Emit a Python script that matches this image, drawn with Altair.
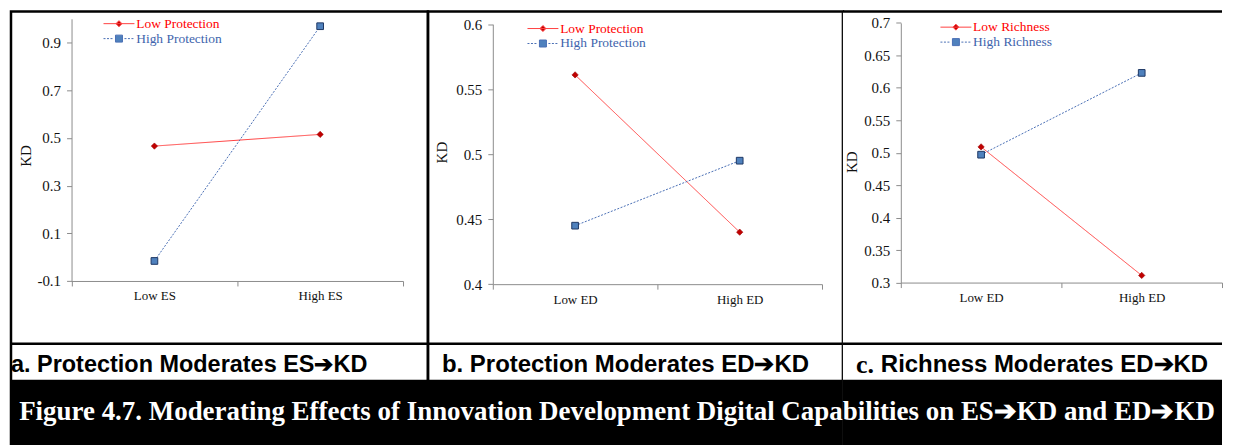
import altair as alt
import pandas as pd

# ---------------- data ----------------
cats_es = ["Low ES", "High ES"]
cats_ed = ["Low ED", "High ED"]
prot_series = ["Low Protection", "High Protection"]
rich_series = ["Low Richness", "High Richness"]

a_low = [0.466, 0.515]
a_high = [-0.016, 0.969]
b_low = [0.561, 0.440]
b_high = [0.445, 0.495]
c_low = [0.509, 0.311]
c_high = [0.497, 0.623]

a_ticks = [-0.1, 0.1, 0.3, 0.5, 0.7, 0.9]
b_ticks = [0.4, 0.45, 0.5, 0.55, 0.6]
c_ticks = [0.3, 0.35, 0.4, 0.45, 0.5, 0.55, 0.6, 0.65, 0.7]

ARROW = "\u2794"
caption_a = f"a. Protection Moderates ES{ARROW}KD"
caption_b = f"b. Protection Moderates ED{ARROW}KD"
caption_c1 = "c."
caption_c2 = f"Richness Moderates ED{ARROW}KD"
figure_title = ("Figure 4.7. Moderating Effects of Innovation Development Digital "
                f"Capabilities on ES{ARROW}KD and ED{ARROW}KD")

# ---------------- style ----------------
RED_LINE = "#FF4040"
RED_MARK = "#C00000"
BLUE_LINE = "#4A6FB5"
BLUE_MARK = "#4F81BD"
BLUE_EDGE = "#1F3864"
AXIS_GRAY = "#8C8C8C"
SERIF = "Liberation Serif"
SANS = "Liberation Sans"

W_A, W_B, W_C = 418, 416, 380
H_TOP = 333          # chart area of each panel
H_CAP = 36           # caption strip
H_BAN = 70           # black figure-title banner (runs off the bottom like the original)
H_ALL = H_TOP + H_CAP + H_BAN
BORDER = 2.5

# legend symbol: line sample with marker in the middle (unit = sqrt(size)/2 px)
path_low = "M-5.2,0L1,0M-2.1,-0.6L-1.5,0L-2.1,0.6L-2.7,0Z"
segs = []
x = -5.2
while x < 1.0:
    x1 = min(x + 0.4, 1.0)
    if x1 <= -2.8 or x >= -1.4:
        segs.append(f"M{x:.2f},0L{x1:.2f},0")
    x += 0.7
path_high = "".join(segs) + "M-2.8,-0.7L-1.4,-0.7L-1.4,0.7L-2.8,0.7Z"


def rule_h(width, ypos, name):
    return alt.Chart(pd.DataFrame({"edge": [name]})).mark_rule(
        color="black", strokeWidth=BORDER).encode(
        x=alt.value(0), x2=alt.value(width), y=alt.value(ypos))


def text_at(txt, xpos, ypos, font, size, color="black", align="left"):
    return alt.Chart(pd.DataFrame({"t": [txt]})).mark_text(
        font=font, fontSize=size, fontWeight="bold", align=align, baseline="middle",
        color=color).encode(text="t:N", x=alt.value(xpos), y=alt.value(ypos))


def banner_rect(width):
    return alt.Chart(pd.DataFrame({"part": ["banner"]})).mark_rect(color="black").encode(
        x=alt.value(0), x2=alt.value(width), y=alt.value(H_TOP + H_CAP), y2=alt.value(H_ALL))


def panel(cats, series, low, high, ydomain, yticks, yfmt_expr, g, width, extras, view=None):
    df = pd.DataFrame({
        "cat": cats * 2,
        "series": [series[0]] * 2 + [series[1]] * 2,
        "kd": low + high,
    })
    x = alt.X(
        "cat:N",
        bandPosition=0.5,
        scale=alt.Scale(type="band", domain=cats, range=[g["x0"], g["x1"]],
                        paddingInner=0, paddingOuter=0),
        axis=alt.Axis(title=None, offset=g["xaxis_y"] - H_ALL, tickBand="extent",
                      labelFontSize=13, labelPadding=4, tickSize=5,
                      labelAngle=0),
    )
    y = alt.Y(
        "kd:Q",
        scale=alt.Scale(domain=ydomain, range=[g["xaxis_y"], g["ytop"]],
                        nice=False, zero=False),
        axis=alt.Axis(values=yticks, offset=-g["x0"], labelExpr=yfmt_expr,
                      labelFontSize=15, labelPadding=6, tickSize=5,
                      labelOverlap=False,
                      title="KD", titleX=g["tx"], titleY=g["ty"],
                      titleAngle=270, titleAlign="center",
                      titleBaseline="middle", titleFontSize=15),
    )
    lines = alt.Chart(df).mark_line(strokeWidth=1).encode(
        x=x, y=y,
        color=alt.Color("series:N", scale=alt.Scale(domain=series, range=[RED_LINE, BLUE_LINE]),
                        legend=None),
        strokeDash=alt.StrokeDash("series:N",
                                  scale=alt.Scale(domain=series, range=[[1, 0], [2, 1.5]]),
                                  legend=None),
    )
    pts_low = alt.Chart(df).transform_filter(alt.datum.series == series[0]).mark_point(
        shape="diamond", filled=True, size=40, fill=RED_MARK, stroke="#9A0000",
        strokeWidth=0.6, opacity=1).encode(x=x, y=y)
    pts_high = alt.Chart(df).transform_filter(alt.datum.series == series[1]).mark_point(
        shape="square", filled=True, size=45, fill=BLUE_MARK, stroke=BLUE_EDGE,
        strokeWidth=1, opacity=1).encode(x=x, y=y)

    is_low = "indexof(datum.value, 'Low') == 0"
    leg = alt.Legend(
        title=None, orient="none", legendX=g["lx"], legendY=g["ly"],
        symbolSize=100, symbolStrokeWidth=1, labelFont=SERIF, labelFontSize=13.5,
        labelOffset=0, rowPadding=0, padding=0, labelLimit=0,
        labelColor=alt.ExprRef(expr=f"{is_low} ? '#FF0000' : '#3E64AD'"),
        symbolFillColor=alt.ExprRef(expr=f"{is_low} ? '{RED_MARK}' : '{BLUE_MARK}'"),
        symbolStrokeColor=alt.ExprRef(expr=f"{is_low} ? '{RED_LINE}' : '{BLUE_LINE}'"),
    )
    legend_layer = alt.Chart(df).transform_filter("false").mark_point(
        filled=True, size=100, opacity=1, strokeWidth=1).encode(
        shape=alt.Shape("series:N", scale=alt.Scale(domain=series, range=[path_low, path_high]),
                        legend=leg),
        fill=alt.Fill("series:N", scale=alt.Scale(domain=series, range=[RED_MARK, BLUE_MARK]),
                      legend=leg),
        stroke=alt.Stroke("series:N", scale=alt.Scale(domain=series, range=[RED_LINE, BLUE_LINE]),
                          legend=leg),
    )
    props = dict(width=width, height=H_ALL)
    if view is not None:
        props["view"] = view
    return alt.layer(
        lines, pts_low, pts_high, legend_layer,
        rule_h(width, H_TOP, "caption-top"), banner_rect(width), *extras
    ).resolve_scale(shape="independent").properties(**props)


geo_a = dict(x0=60.7, x1=393, xaxis_y=270.1, ytop=7.3, tx=-45.7, ty=144.3, lx=112, ly=5.4)
geo_b = dict(x0=65, x1=395, xaxis_y=273.3, ytop=12.7, tx=-51, ty=140.9, lx=119, ly=10.3)
geo_c = dict(x0=58, x1=380, xaxis_y=271.7, ytop=11.4, tx=-49, ty=150.6, lx=117, ly=8.9)

fmt_a = "replace(format(datum.value, '.1f'), '\u2212', '-')"
fmt_bc = "format(datum.value, '.2~f')"

CAP_Y = H_TOP + 21
BAN_Y = H_TOP + H_CAP + 32
BAN_X = 607.5 - W_A - W_B   # centre of the visible figure width, relative to panel c

pa = panel(cats_es, prot_series, a_low, a_high, [-0.1, 1.0], a_ticks, fmt_a, geo_a, W_A,
           [text_at(caption_a, 0, CAP_Y, SANS, 23.5)])
pb = panel(cats_ed, prot_series, b_low, b_high, [0.4, 0.6], b_ticks, fmt_bc, geo_b, W_B,
           [text_at(caption_b, 14, CAP_Y, SANS, 24)])
pc = panel(cats_ed, rich_series, c_low, c_high, [0.3, 0.7], c_ticks, fmt_bc, geo_c, W_C,
           [rule_h(W_C, 0, "top"),
            text_at(caption_c1, 13, CAP_Y, SERIF, 26),
            text_at(caption_c2, 38, CAP_Y, SANS, 24),
            text_at(figure_title, BAN_X, BAN_Y, SERIF, 27, color="white", align="center")],
           view=alt.ViewBackground(stroke="transparent", fill="white"))

chart = alt.hconcat(pa, pb, pc, spacing=0, bounds="flush").resolve_scale(
    color="independent", shape="independent", fill="independent",
    stroke="independent", strokeDash="independent").resolve_legend(
    shape="independent", fill="independent", stroke="independent",
    color="independent", strokeDash="independent").properties(
    padding=0, background="white"
).configure_view(
    stroke="black", strokeWidth=BORDER, fill="white"
).configure_axis(
    domainColor=AXIS_GRAY, tickColor=AXIS_GRAY, domainWidth=1, tickWidth=1,
    labelFont=SERIF, labelColor="#111111", titleFont=SERIF, titleFontWeight="normal",
    titleColor="#111111", grid=False,
)

chart.save("out.html", embed_options={"renderer": "svg", "actions": False})
